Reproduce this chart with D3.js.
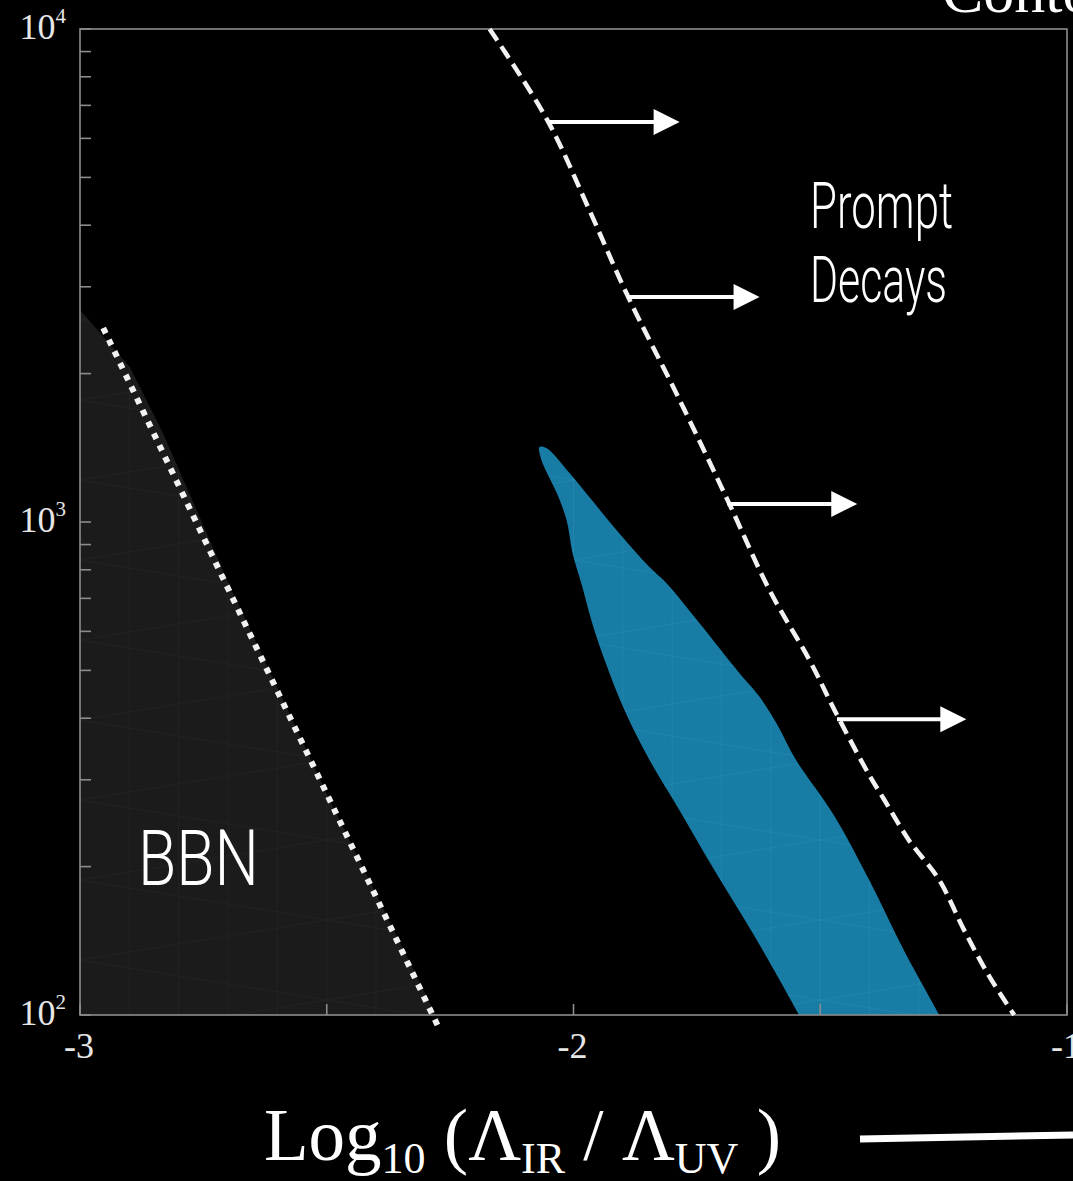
<!DOCTYPE html>
<html>
<head>
<meta charset="utf-8">
<script src="https://cdn.jsdelivr.net/npm/d3@7"></script>
<style>
  body { margin: 0; background: #000; overflow: hidden; }
  svg { display: block; }
</style>
</head>
<body>
<svg width="1073" height="1181"></svg>
<script>
// x = log10(L_IR / L_UV), y = value on log axis
const promptX = [-2.170, -2.053, -1.968, -1.891, -1.785, -1.688, -1.603, -1.522, -1.466, -1.401, -1.370, -1.320, -1.259, -1.209, -1.158, -1.107];
const promptY = [10000, 6534, 4295, 2886, 1768, 1109, 728, 525, 406, 307, 273, 226, 188, 149, 120, 100];

const bbnX = [-3, -2.899, -2.832, -2.702, -2.494, -2.279, -3];
const bbnY = [2692, 2063, 1515, 763, 273, 100, 100];

const bbnLineX = [-2.953, -2.713, -2.494, -2.271];
const bbnLineY = [2475, 780, 273, 93.3];

const blobX = [-2.069, -2.065, -2.034, -2.014, -2.002, -1.982, -1.964, -1.937, -1.897, -1.846, -1.785, -1.715, -1.634, -1.543, -1.527,
  -1.243, -1.259, -1.330, -1.401, -1.472, -1.549, -1.589, -1.623, -1.664, -1.745, -1.812, -1.846, -1.913, -1.968, -2.008, -2.055];
const blobY = [1419, 1336, 1145, 1009, 865, 738, 633, 525, 416, 329, 260, 197, 145, 100, 93,
  93, 100, 135, 188, 254, 329, 391, 442, 494, 624, 752, 810, 963, 1124, 1257, 1413];

const arrowY = [6476, 2860, 1088, 398];
const arrowX0 = [-2.049, -1.891, -1.688, -1.466];
const arrowX1 = [-1.785, -1.623, -1.425, -1.204];

const xTicks = [-3, -2.5, -2, -1.5, -1];
const xTickLabels = [-3, -2, -1];
const yMajor = [100, 1000, 10000];
const yMajorExp = ["2", "3", "4"];
const yMinor = [200, 300, 400, 500, 600, 700, 800, 900, 2000, 3000, 4000, 5000, 6000, 7000, 8000, 9000];

const svg = d3.select("svg");
const pLeft = 80, pRight = 1067, pTop = 29, pBottom = 1015;

const xScale = d3.scaleLinear().domain([-3, -1]).range([pLeft, pRight]);
const yScale = d3.scaleLog().domain([100, 10000]).range([pBottom, pTop]);

const toPts = (xs, ys) => xs.map((x, i) => [xScale(x), yScale(ys[i])]);
const line = d3.line();

const defs = svg.append("defs");
defs.append("clipPath").attr("id", "plotClip")
  .append("rect").attr("x", pLeft).attr("y", pTop).attr("width", pRight - pLeft).attr("height", pBottom - pTop);

const plot = svg.append("g").attr("clip-path", "url(#plotClip)");

// faint mesh inside filled regions
function mesh(g, color) {
  d3.range(-3, -0.9, 0.1).forEach((v) => {
    g.append("line").attr("x1", xScale(v)).attr("x2", xScale(v)).attr("y1", pTop).attr("y2", pBottom)
      .attr("stroke", color).attr("stroke-width", 1);
  });
  d3.range(0, 1200, 80).forEach((yy) => {
    g.append("line").attr("x1", pLeft).attr("x2", pRight).attr("y1", yy).attr("y2", yy + 160)
      .attr("stroke", color).attr("stroke-width", 1);
    g.append("line").attr("x1", pLeft).attr("x2", pRight).attr("y1", yy + 160).attr("y2", yy)
      .attr("stroke", color).attr("stroke-width", 1);
  });
}

// BBN region
const bbnPath = line(toPts(bbnX, bbnY)) + "Z";
defs.append("clipPath").attr("id", "bbnClip").append("path").attr("d", bbnPath);
plot.append("path").attr("d", bbnPath).attr("fill", "#1b1b1b");
mesh(plot.append("g").attr("clip-path", "url(#bbnClip)"), "#232323");

// blue region
const blobPath = d3.line().curve(d3.curveCatmullRomClosed)(toPts(blobX, blobY));
defs.append("clipPath").attr("id", "blobClip").append("path").attr("d", blobPath);
plot.append("path").attr("d", blobPath).attr("fill", "#187ca4");
mesh(plot.append("g").attr("clip-path", "url(#blobClip)"), "rgba(90,190,230,0.15)");

// frame and ticks
const axisColor = "#8c8c8c";
svg.append("rect").attr("x", pLeft).attr("y", pTop).attr("width", pRight - pLeft).attr("height", pBottom - pTop)
  .attr("fill", "none").attr("stroke", axisColor).attr("stroke-width", 1.6);

svg.append("g").selectAll("line").data(xTicks).enter().append("line")
  .attr("x1", (d) => xScale(d)).attr("x2", (d) => xScale(d))
  .attr("y1", pBottom).attr("y2", pBottom - 11)
  .attr("stroke", axisColor).attr("stroke-width", 1.6);

svg.append("g").selectAll("line").data(yMajor.concat(yMinor)).enter().append("line")
  .attr("x1", pLeft).attr("x2", pLeft + 11)
  .attr("y1", (d) => yScale(d)).attr("y2", (d) => yScale(d))
  .attr("stroke", axisColor).attr("stroke-width", 1.6);

const tickFont = "'Liberation Serif', 'DejaVu Serif', serif";
svg.append("g").selectAll("text").data(xTickLabels).enter().append("text")
  .attr("x", (d) => xScale(d) - 1).attr("y", 1058)
  .attr("text-anchor", "middle").attr("fill", "#e6e6e6")
  .attr("font-family", tickFont).style("font-size", "36px")
  .text((d) => d);

const yl = svg.append("g").selectAll("text").data(yMajor).enter().append("text")
  .attr("x", 66).attr("y", (d) => yScale(d) + 10)
  .attr("text-anchor", "end").attr("fill", "#e6e6e6")
  .attr("font-family", tickFont).style("font-size", "36px");
yl.append("tspan").text("10");
yl.append("tspan").attr("dy", -16).style("font-size", "21px").text((d, i) => yMajorExp[i]);

// dotted BBN boundary
svg.append("path").attr("d", line(toPts(bbnLineX, bbnLineY)))
  .attr("fill", "none").attr("stroke", "#f2f2f2").attr("stroke-width", 6)
  .attr("stroke-dasharray", "6 7");

// dashed prompt-decay boundary
svg.append("path").attr("d", d3.line().curve(d3.curveCatmullRom)(toPts(promptX, promptY)))
  .attr("fill", "none").attr("stroke", "#f2f2f2").attr("stroke-width", 4.5)
  .attr("stroke-dasharray", "14 7");

// arrows
const arrows = svg.append("g");
arrowY.forEach((v, i) => {
  const y = yScale(v), x0 = xScale(arrowX0[i]), x1 = xScale(arrowX1[i]);
  arrows.append("line").attr("x1", x0).attr("x2", x1 - 24).attr("y1", y).attr("y2", y)
    .attr("stroke", "#fff").attr("stroke-width", 4);
  arrows.append("path").attr("d", `M${x1},${y}L${x1 - 26},${y - 13}L${x1 - 26},${y + 13}Z`).attr("fill", "#fff");
});

// labels
const condFont = "Roboto, 'DejaVu Sans', sans-serif";
svg.append("text").attr("x", 810).attr("y", 228).attr("fill", "#fff")
  .attr("font-family", condFont).attr("font-weight", 300).style("font-size", "64px")
  .attr("textLength", 143).attr("lengthAdjust", "spacingAndGlyphs").text("Prompt");
svg.append("text").attr("x", 810).attr("y", 302).attr("fill", "#fff")
  .attr("font-family", condFont).attr("font-weight", 300).style("font-size", "64px")
  .attr("textLength", 137).attr("lengthAdjust", "spacingAndGlyphs").text("Decays");
svg.append("text").attr("x", 138).attr("y", 885).attr("fill", "#fff")
  .attr("font-family", condFont).attr("font-weight", 300).style("font-size", "78px")
  .attr("textLength", 121).attr("lengthAdjust", "spacingAndGlyphs").text("BBN");

// axis title
const serif = "'Liberation Serif', 'DejaVu Serif', serif";
const title = svg.append("text").attr("x", 264).attr("y", 1160).attr("fill", "#fff")
  .attr("font-family", serif).style("font-size", "73px");
title.append("tspan").text("Log");
title.append("tspan").style("font-size", "44px").attr("dy", 13).text("10");
title.append("tspan").attr("dy", -13).text(" (Λ");
title.append("tspan").style("font-size", "44px").attr("dy", 13).text("IR");
title.append("tspan").attr("dy", -13).text(" / Λ");
title.append("tspan").style("font-size", "44px").attr("dy", 13).text("UV");
title.append("tspan").attr("dy", -13).text(" )");

svg.append("line").attr("x1", 860).attr("y1", 1139).attr("x2", 1073).attr("y2", 1135)
  .attr("stroke", "#fff").attr("stroke-width", 7);

svg.append("text").attr("x", 942).attr("y", 12).attr("fill", "#fff")
  .attr("font-family", serif).style("font-size", "62px").text("Contours");
</script>
</body>
</html>
